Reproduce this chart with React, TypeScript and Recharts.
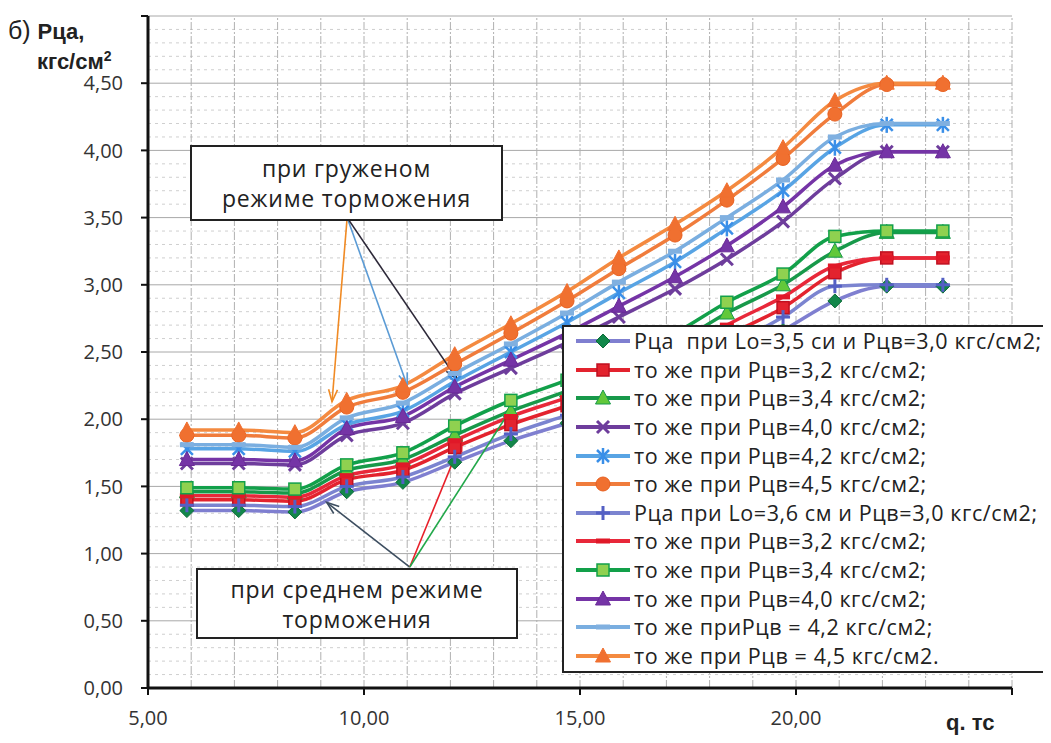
import React from 'react';
import { LineChart, Line, XAxis, YAxis, ReferenceLine, Legend } from 'recharts';

// нагрузка q, тс
const qValues = [5.9, 7.1, 8.4, 9.6, 10.9, 12.1, 13.4, 14.7, 15.9, 17.2, 18.4, 19.7, 20.9, 22.1, 23.4];

// Lo = 3,5 см
const lo35p30 = [1.32, 1.32, 1.31, 1.46, 1.53, 1.68, 1.84, 1.97, 2.1, 2.25, 2.45, 2.66, 2.88, 2.99, 2.99];
const lo35p32 = [1.4, 1.4, 1.39, 1.55, 1.62, 1.79, 1.96, 2.1, 2.24, 2.4, 2.62, 2.83, 3.09, 3.2, 3.2];
const lo35p34 = [1.46, 1.46, 1.45, 1.62, 1.7, 1.88, 2.06, 2.21, 2.37, 2.56, 2.79, 3.0, 3.25, 3.39, 3.39];
const lo35p40 = [1.67, 1.67, 1.66, 1.88, 1.97, 2.19, 2.38, 2.57, 2.76, 2.97, 3.19, 3.47, 3.79, 3.99, 3.99];
const lo35p42 = [1.78, 1.78, 1.76, 1.96, 2.06, 2.28, 2.5, 2.72, 2.94, 3.17, 3.42, 3.7, 4.02, 4.19, 4.19];
const lo35p45 = [1.88, 1.88, 1.86, 2.09, 2.2, 2.41, 2.64, 2.88, 3.12, 3.37, 3.63, 3.94, 4.27, 4.49, 4.49];

// Lo = 3,6 см
const lo36p30 = [1.36, 1.36, 1.35, 1.5, 1.57, 1.72, 1.89, 2.03, 2.16, 2.32, 2.53, 2.76, 2.99, 3.0, 3.0];
const lo36p32 = [1.43, 1.43, 1.42, 1.58, 1.66, 1.84, 2.02, 2.16, 2.3, 2.47, 2.7, 2.91, 3.14, 3.2, 3.2];
const lo36p34 = [1.49, 1.49, 1.48, 1.66, 1.75, 1.95, 2.14, 2.29, 2.45, 2.64, 2.87, 3.08, 3.36, 3.4, 3.4];
const lo36p40 = [1.7, 1.7, 1.69, 1.93, 2.02, 2.24, 2.44, 2.64, 2.84, 3.06, 3.29, 3.58, 3.89, 3.99, 3.99];
const lo36p42 = [1.81, 1.81, 1.79, 2.01, 2.12, 2.34, 2.56, 2.79, 3.02, 3.25, 3.5, 3.78, 4.1, 4.2, 4.2];
const lo36p45 = [1.92, 1.92, 1.9, 2.14, 2.25, 2.48, 2.71, 2.95, 3.2, 3.45, 3.7, 4.02, 4.37, 4.5, 4.5];

const seriesNames = [
  'Рца  при Lo=3,5 си и Рцв=3,0 кгс/см2;',
  'то же при Рцв=3,2 кгс/см2;',
  'то же при Рцв=3,4 кгс/см2;',
  'то же при Рцв=4,0 кгс/см2;',
  'то же при Рцв=4,2 кгс/см2;',
  'то же при Рцв=4,5 кгс/см2;',
  'Рца при Lo=3,6 см и Рцв=3,0 кгс/см2;',
  'то же при Рцв=3,2 кгс/см2;',
  'то же при Рцв=3,4 кгс/см2;',
  'то же при Рцв=4,0 кгс/см2;',
  'то же приРцв = 4,2 кгс/см2;',
  'то же при Рцв = 4,5 кгс/см2.',
];

const xTicks = [5, 10, 15, 20, 25];
const yTicks = [0, 0.5, 1, 1.5, 2, 2.5, 3, 3.5, 4, 4.5, 5];
const gridX = [6, 7, 8, 9, 10, 11, 12, 13, 14, 15, 16, 17, 18, 19, 20, 21, 22, 23, 24, 25];
const gridYMinor = Array.from({ length: 49 }, (_, i) => +(0.1 * (i + 1)).toFixed(1)).filter((v) => Math.abs(v * 2 - Math.round(v * 2)) > 0.01);

const allSeries = [lo35p30, lo35p32, lo35p34, lo35p40, lo35p42, lo35p45, lo36p30, lo36p32, lo36p34, lo36p40, lo36p42, lo36p45];

// line colour, marker kind, marker fill, marker stroke
const styles = [
  { line: '#7f7fd0', marker: 'diamond', fill: '#12874a', stroke: '#0c6b38' },
  { line: '#e3232e', marker: 'square', fill: '#e3232e', stroke: '#c01020' },
  { line: '#17994a', marker: 'triangle', fill: '#62c83a', stroke: '#17994a' },
  { line: '#6e3d9c', marker: 'x', fill: '#6e3d9c', stroke: '#6e3d9c' },
  { line: '#58a4e4', marker: 'star', fill: '#3a8fe8', stroke: '#3a8fe8' },
  { line: '#f07c3c', marker: 'circle', fill: '#f07030', stroke: '#e86020' },
  { line: '#7b84d0', marker: 'plus', fill: '#5460c4', stroke: '#5460c4' },
  { line: '#e8283a', marker: 'dash', fill: '#e01828', stroke: '#e01828' },
  { line: '#12a04a', marker: 'square', fill: '#8fd150', stroke: '#12a04a' },
  { line: '#7534a6', marker: 'triangle', fill: '#7534a6', stroke: '#6a2a98' },
  { line: '#7aaee0', marker: 'dash', fill: '#80b0e0', stroke: '#80b0e0' },
  { line: '#f48a40', marker: 'triangle', fill: '#f07030', stroke: '#f07030' },
];

// annotation arrows, in data units
const arrowsTop = [
  { from: { x: 9.61, y: 3.5 }, to: { x: 9.26, y: 2.13 }, color: '#f08a24' },
  { from: { x: 9.61, y: 3.5 }, to: { x: 11.0, y: 2.25 }, color: '#5b9bd5' },
  { from: { x: 9.61, y: 3.5 }, to: { x: 12.15, y: 2.3 }, color: '#2c2838' },
];
const arrowsBottom = [
  { from: { x: 11.06, y: 0.9 }, to: { x: 9.14, y: 1.38 }, color: '#3d4e60' },
  { from: { x: 11.06, y: 0.9 }, to: { x: 12.27, y: 1.85 }, color: '#e8202a' },
  { from: { x: 11.06, y: 0.9 }, to: { x: 13.43, y: 2.09 }, color: '#22a84a' },
];

const data = qValues.map((q, i) => {
  const row: any = { q };
  allSeries.forEach((s, k) => {
    row['s' + k] = s[i];
  });
  return row;
});

const FONT = "'Open Sans', sans-serif";
const fmt = (v: number) => v.toFixed(2).replace('.', ',');

function Marker({ cx, cy, kind, fill, stroke }: any) {
  if (cx == null || cy == null) return null;
  switch (kind) {
    case 'diamond':
      return <polygon points={`${cx},${cy - 7} ${cx + 7},${cy} ${cx},${cy + 7} ${cx - 7},${cy}`} fill={fill} stroke={stroke} />;
    case 'square':
      return <rect x={cx - 6} y={cy - 6} width={12} height={12} fill={fill} stroke={stroke} strokeWidth={1.5} />;
    case 'triangle':
      return <polygon points={`${cx},${cy - 8} ${cx + 7.5},${cy + 6} ${cx - 7.5},${cy + 6}`} fill={fill} stroke={stroke} />;
    case 'x':
      return (
        <g stroke={stroke} strokeWidth={3}>
          <line x1={cx - 6} y1={cy - 6} x2={cx + 6} y2={cy + 6} />
          <line x1={cx - 6} y1={cy + 6} x2={cx + 6} y2={cy - 6} />
        </g>
      );
    case 'star':
      return (
        <g stroke={stroke} strokeWidth={2.5}>
          <line x1={cx - 6} y1={cy - 6} x2={cx + 6} y2={cy + 6} />
          <line x1={cx - 6} y1={cy + 6} x2={cx + 6} y2={cy - 6} />
          <line x1={cx} y1={cy - 8} x2={cx} y2={cy + 8} />
        </g>
      );
    case 'circle':
      return <circle cx={cx} cy={cy} r={7} fill={fill} stroke={stroke} />;
    case 'plus':
      return (
        <g stroke={stroke} strokeWidth={3}>
          <line x1={cx - 7} y1={cy} x2={cx + 7} y2={cy} />
          <line x1={cx} y1={cy - 7} x2={cx} y2={cy + 7} />
        </g>
      );
    case 'dash':
      return <rect x={cx - 7} y={cy - 2.5} width={14} height={5} fill={fill} />;
    default:
      return null;
  }
}

function Arrow(props: any) {
  const { x1, y1, x2, y2, stroke } = props;
  if ([x1, y1, x2, y2].some((v) => v == null || isNaN(v))) return null;
  const a = Math.atan2(y2 - y1, x2 - x1);
  const len = 13;
  const spread = 0.35;
  const p1x = x2 - len * Math.cos(a - spread);
  const p1y = y2 - len * Math.sin(a - spread);
  const p2x = x2 - len * Math.cos(a + spread);
  const p2y = y2 - len * Math.sin(a + spread);
  return (
    <g>
      <line x1={x1} y1={y1} x2={x2} y2={y2} stroke={stroke} strokeWidth={1.6} />
      <polyline points={`${p1x},${p1y} ${x2},${y2} ${p2x},${p2y}`} fill="none" stroke={stroke} strokeWidth={1.6} />
    </g>
  );
}

function LegendBox() {
  return (
    <div
      style={{
        width: 486,
        height: 348,
        boxSizing: 'border-box',
        border: '2px solid #222',
        background: '#fff',
        paddingTop: 0,
        fontFamily: FONT,
      }}
    >
      {seriesNames.map((name, i) => (
        <div key={i} style={{ height: 28.6, display: 'flex', alignItems: 'center' }}>
          <svg width={62} height={20} style={{ marginLeft: 10, flex: 'none' }}>
            <line x1={2} y1={10} x2={56} y2={10} stroke={styles[i].line} strokeWidth={4} />
            <Marker cx={29} cy={10} kind={styles[i].marker} fill={styles[i].fill} stroke={styles[i].stroke} />
          </svg>
          <span style={{ fontSize: 21.5, lineHeight: '26px', letterSpacing: 0.6, color: '#222', whiteSpace: 'pre', marginLeft: -2 }}>{name}</span>
        </div>
      ))}
    </div>
  );
}

const boxStyle: React.CSSProperties = {
  position: 'absolute',
  boxSizing: 'border-box',
  border: '2px solid #222',
  background: '#fff',
  fontFamily: FONT,
  fontSize: 23,
  letterSpacing: 0.8,
  color: '#222',
  textAlign: 'center',
  lineHeight: '30px',
  display: 'flex',
  flexDirection: 'column',
  justifyContent: 'center',
};

export default function App() {
  return (
    <div style={{ position: 'relative', width: 1043, height: 735 }}>
      <LineChart width={1043} height={735} data={data} margin={{ top: 8, right: 39, bottom: 15, left: 0 }}>
        {gridYMinor.map((v) => (
          <ReferenceLine key={'ym' + v} y={v} stroke="#cfcfcf" strokeDasharray="3 4" strokeWidth={1} />
        ))}
        {yTicks.slice(1).map((v) => (
          <ReferenceLine key={'y' + v} y={v} stroke="#a8a8a8" strokeWidth={1} />
        ))}
        {gridX.map((v) => (
          <ReferenceLine key={'x' + v} x={v} stroke="#b0b0b0" strokeWidth={1} strokeDasharray="8 2 2 2" />
        ))}
        <XAxis
          type="number"
          dataKey="q"
          domain={[5, 25]}
          ticks={xTicks}
          tickFormatter={(v: number) => (v === 25 ? '' : fmt(v))}
          axisLine={{ stroke: '#111', strokeWidth: 3 }}
          tickLine={{ stroke: '#111', strokeWidth: 2 }}
          tickSize={7}
          tickMargin={16}
          height={40}
          tick={{ fill: '#333', fontSize: 20, fontFamily: FONT }}
          allowDataOverflow
        />
        <YAxis
          type="number"
          domain={[0, 5]}
          ticks={yTicks}
          tickFormatter={(v: number) => (v === 5 ? '' : fmt(v))}
          axisLine={{ stroke: '#111', strokeWidth: 3 }}
          tickLine={{ stroke: '#111', strokeWidth: 2 }}
          tickSize={7}
          tickMargin={18}
          width={140}
          tick={{ fill: '#333', fontSize: 20, fontFamily: FONT }}
          allowDataOverflow
        />
        {allSeries.map((_, k) => (
          <Line
            key={'s' + k}
            dataKey={'s' + k}
            name={seriesNames[k]}
            type="monotone"
            stroke={styles[k].line}
            strokeWidth={3.5}
            isAnimationActive={false}
            dot={(p: any) => (
              <Marker
                key={`m${k}-${p.index}`}
                cx={p.cx}
                cy={p.cy}
                kind={styles[k].marker}
                fill={styles[k].fill}
                stroke={styles[k].stroke}
              />
            )}
            activeDot={false}
          />
        ))}
        {[...arrowsTop, ...arrowsBottom].map((a, i) => (
          <ReferenceLine
            key={'a' + i}
            segment={[a.from, a.to]}
            stroke={a.color}
            ifOverflow="visible"
            shape={(p: any) => <Arrow {...p} stroke={a.color} />}
          />
        ))}
        <Legend
          layout="vertical"
          align="center"
          verticalAlign="middle"
          wrapperStyle={{ left: 554, top: 317, width: 486, height: 348 }}
          content={() => <LegendBox />}
        />
      </LineChart>

      <div style={{ ...boxStyle, left: 182, top: 137, width: 313, height: 76 }}>
        <div>при груженом</div>
        <div>режиме торможения</div>
      </div>
      <div style={{ ...boxStyle, left: 188, top: 560, width: 322, height: 71 }}>
        <div>при среднем режиме</div>
        <div>торможения</div>
      </div>

      <div style={{ position: 'absolute', left: 0, top: 8, fontFamily: "'Liberation Sans', Arial, sans-serif", color: '#222', whiteSpace: 'nowrap' }}>
        <span style={{ fontSize: 25 }}>б) </span>
        <span style={{ fontSize: 22, fontWeight: 'bold' }}>Рца,</span>
      </div>
      <div style={{ position: 'absolute', left: 29, top: 40, fontFamily: "'Liberation Sans', Arial, sans-serif", fontSize: 22, fontWeight: 'bold', color: '#222', whiteSpace: 'nowrap' }}>
        кгс/см<sup style={{ fontSize: 14 }}>2</sup>
      </div>
      <div style={{ position: 'absolute', left: 938, top: 702, fontFamily: "'Liberation Sans', Arial, sans-serif", fontSize: 22, fontWeight: 'bold', color: '#222' }}>
        q. тс
      </div>
    </div>
  );
}
